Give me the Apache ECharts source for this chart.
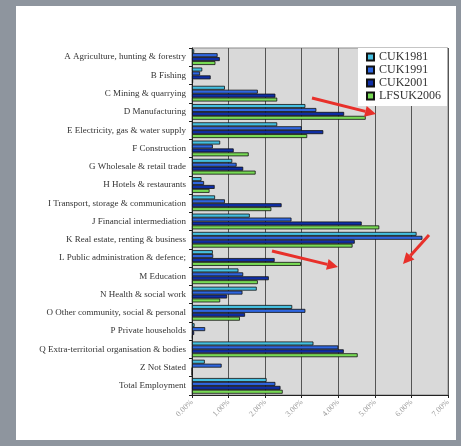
<!DOCTYPE html>
<html>
<head>
<meta charset="utf-8">
<script src="https://cdn.jsdelivr.net/npm/echarts@6/dist/echarts.min.js"></script>
<style>
  html, body { margin: 0; padding: 0; background: #8e959e; }
  #chart { width: 461px; height: 446px; }
</style>
</head>
<body>
<div id="chart"></div>
<script>
// Employment share by industry (%), four survey sources
const categories = [
  'A Agriculture, hunting & forestry',
  'B Fishing',
  'C Mining & quarrying',
  'D Manufacturing',
  'E Electricity, gas & water supply',
  'F Construction',
  'G Wholesale & retail trade',
  'H Hotels & restaurants',
  'I Transport, storage & communication',
  'J Financial intermediation',
  'K Real estate, renting & business',
  'L Public administration & defence;',
  'M Education',
  'N Health & social work',
  'O Other community, social & personal',
  'P Private households',
  'Q Extra-territorial organisation & bodies',
  'Z Not Stated',
  'Total Employment'
];
const seriesNames = ['CUK1981', 'CUK1991', 'CUK2001', 'LFSUK2006'];
const cuk1981 = [0.06, 0.28, 0.90, 3.10, 2.33, 0.77, 1.10, 0.26, 0.63, 1.58, 6.14, 0.57, 1.27, 1.77, 2.74, 0.07, 3.32, 0.35, 2.04];
const cuk1991 = [0.70, 0.22, 1.80, 3.40, 3.00, 0.57, 1.22, 0.33, 0.90, 2.72, 6.30, 0.58, 1.40, 1.38, 3.10, 0.36, 4.00, 0.81, 2.28];
const cuk2001 = [0.76, 0.51, 2.28, 4.16, 3.59, 1.14, 1.40, 0.62, 2.45, 4.64, 4.45, 2.26, 2.10, 0.96, 1.45, 0.06, 4.15, 0.00, 2.42];
const lfsuk2006 = [0.64, 0.03, 2.33, 4.75, 3.15, 1.55, 1.74, 0.48, 2.17, 5.12, 4.39, 2.98, 1.80, 0.77, 1.31, 0.02, 4.53, 0.00, 2.48];
const xTicks = { min: 0, max: 7, step: 1 };

const colors = ['#45bfe0', '#2f66e0', '#0f2ea6', '#78da55'];
const values = [cuk1981, cuk1991, cuk2001, lfsuk2006];

// Red annotation arrows drawn on top of the plot
function arrow(x1, y1, x2, y2) {
  const ang = Math.atan2(y2 - y1, x2 - x1);
  const head = 11, half = 5.5;
  const bx = x2 - head * Math.cos(ang), by = y2 - head * Math.sin(ang);
  const nx = -Math.sin(ang), ny = Math.cos(ang);
  return [
    { type: 'line', z: 100, shape: { x1: x1, y1: y1, x2: bx, y2: by },
      style: { stroke: '#e8302a', lineWidth: 3 } },
    { type: 'polygon', z: 100,
      shape: { points: [[x2, y2], [bx + nx * half, by + ny * half], [bx - nx * half, by - ny * half]] },
      style: { fill: '#e8302a' } }
  ];
}

const chart = echarts.init(document.getElementById('chart'));
chart.setOption({
  animation: false,
  backgroundColor: 'transparent',
  color: colors,
  graphic: [
    { type: 'rect', z: -10, shape: { x: 16, y: 6, width: 440, height: 434 },
      style: { fill: '#ffffff' } }
  ].concat(arrow(312, 98, 376, 114), arrow(272, 251, 338, 267), arrow(429, 235, 403, 264)),
  legend: {
    orient: 'vertical',
    left: 358,
    top: 48,
    backgroundColor: '#ffffff',
    padding: [3, 6, 4, 8],
    itemGap: 1,
    itemWidth: 7,
    itemHeight: 7,
    icon: 'rect',
    data: seriesNames,
    textStyle: { fontFamily: 'Liberation Serif', fontSize: 12, color: '#333', lineHeight: 12 }
  },
  grid: {
    left: 192, top: 48, width: 256, height: 347,
    show: true, backgroundColor: '#d9d9d9', borderColor: '#8a8a8a', borderWidth: 1
  },
  xAxis: {
    type: 'value',
    min: xTicks.min, max: xTicks.max, interval: xTicks.step,
    axisLine: { show: true, lineStyle: { color: '#222' } },
    axisTick: { show: true, length: 3, lineStyle: { color: '#222' } },
    splitLine: { show: true, lineStyle: { color: '#555', width: 1 } },
    axisLabel: {
      rotate: 45, fontSize: 8, color: '#9a9a9a', margin: 6,
      fontFamily: 'Liberation Serif',
      formatter: v => v.toFixed(2) + '%'
    }
  },
  yAxis: {
    type: 'category',
    inverse: true,
    data: categories,
    axisLine: { show: true, lineStyle: { color: '#222' } },
    axisTick: { show: true, length: 3, lineStyle: { color: '#222' } },
    axisLabel: { fontFamily: 'Liberation Serif', fontSize: 9, color: '#333', margin: 6 }
  },
  series: seriesNames.map((name, i) => ({
    name: name,
    type: 'bar',
    data: values[i],
    barGap: '0%',
    barCategoryGap: '14%',
    itemStyle: { borderColor: '#111', borderWidth: 0.8 }
  }))
});
</script>
</body>
</html>
